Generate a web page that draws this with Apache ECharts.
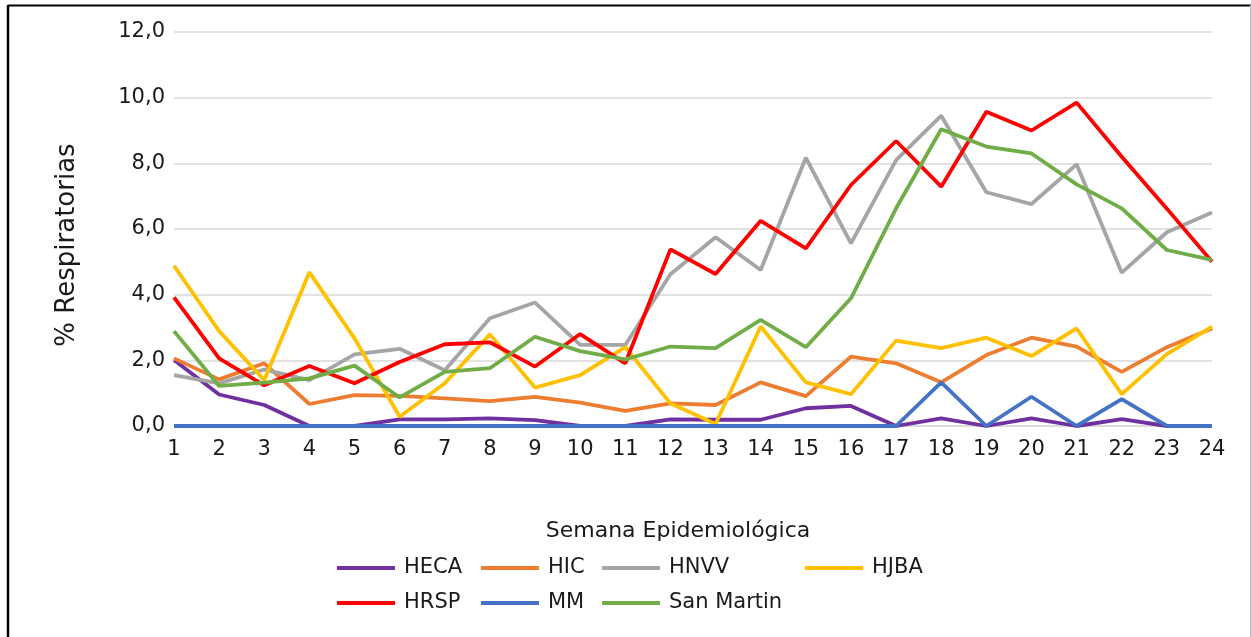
<!DOCTYPE html>
<html>
<head>
<meta charset="utf-8">
<script src="https://cdn.jsdelivr.net/npm/echarts@6/dist/echarts.min.js"></script>
<style>
html,body{margin:0;padding:0;background:#fff;}
#c{width:1251px;height:637px;}
</style>
</head>
<body>
<div id="c"></div>
<script>
var weeks = ['1','2','3','4','5','6','7','8','9','10','11','12','13','14','15','16','17','18','19','20','21','22','23','24'];
var HECA = [2.01,0.96,0.64,0,0,0.2,0.2,0.23,0.18,0,0,0.2,0.19,0.19,0.54,0.61,0,0.23,0,0.23,0,0.21,0,0];
var HIC = [2.06,1.42,1.91,0.67,0.94,0.92,0.84,0.76,0.89,0.71,0.46,0.69,0.64,1.33,0.91,2.11,1.91,1.33,2.16,2.69,2.42,1.65,2.40,2.97];
var HNVV = [1.55,1.30,1.72,1.40,2.18,2.35,1.70,3.28,3.76,2.47,2.47,4.62,5.75,4.75,8.17,5.56,8.10,9.45,7.12,6.76,7.97,4.67,5.90,6.50];
var HJBA = [4.88,2.89,1.40,4.68,2.67,0.28,1.30,2.79,1.17,1.55,2.40,0.69,0.06,3.03,1.33,0.97,2.60,2.37,2.69,2.13,2.97,0.97,2.19,3.03];
var HRSP = [3.92,2.06,1.24,1.83,1.30,1.95,2.49,2.55,1.81,2.80,1.91,5.38,4.63,6.25,5.41,7.34,8.68,7.29,9.57,9.00,9.85,8.20,6.62,5.00];
var MM = [0,0,0,0,0,0,0,0,0,0,0,0,0,0,0,0,0,1.33,0,0.89,0,0.82,0,0];
var SanMartin = [2.89,1.22,1.32,1.45,1.84,0.87,1.65,1.76,2.72,2.28,2.03,2.42,2.37,3.23,2.40,3.89,6.63,9.04,8.51,8.30,7.36,6.63,5.36,5.06];
var yTicks = [0,2,4,6,8,10,12];

var names = ['HECA','HIC','HNVV','HJBA','HRSP','MM','San Martin'];
var values = [HECA,HIC,HNVV,HJBA,HRSP,MM,SanMartin];
var colors = ['#7030A0','#ED7D31','#A5A5A5','#FFC000','#FF0000','#4472C4','#70AD47'];
var legendPos = [[337,556],[481,556],[602,556],[805,556],[337,591],[481,591],[602,591]];

var chart = echarts.init(document.getElementById('c'), null, {renderer:'canvas'});
var font = 'DejaVu Sans';
var series = names.map(function(n,i){
  return {name:n,type:'line',data:values[i],symbol:'none',smooth:false,
    lineStyle:{color:colors[i],width:3.8},itemStyle:{color:colors[i]},z:2+i};
});
var legends = names.map(function(n,i){
  return {data:[n],left:legendPos[i][0],top:legendPos[i][1],icon:'rect',itemWidth:58,itemHeight:4,
    selectedMode:false,padding:0,textStyle:{fontFamily:font,fontSize:21,color:'#1a1a1a',lineHeight:24,padding:[0,0,0,4]}};
});
chart.setOption({
  animation:false,
  backgroundColor:'#fff',
  grid:{left:174,right:39,top:32,bottom:211,containLabel:false},
  legend:legends,
  xAxis:{type:'category',data:weeks,boundaryGap:false,
    axisLine:{show:true,lineStyle:{color:'#d9d9d9',width:1.5}},axisTick:{show:false},
    axisLabel:{fontFamily:font,fontSize:21,color:'#1a1a1a',margin:13}},
  yAxis:{type:'value',min:yTicks[0],max:yTicks[yTicks.length-1],interval:2,
    axisLine:{show:false},axisTick:{show:false},
    splitLine:{lineStyle:{color:'#d9d9d9',width:1.5}},
    axisLabel:{fontFamily:font,fontSize:21,color:'#1a1a1a',margin:9,
      formatter:function(v){return v.toFixed(1).replace('.',',');}}},
  series:series,
  graphic:[
    {type:'text',x:67,y:245,rotation:Math.PI/2,style:{text:'% Respiratorias',fontFamily:font,fontSize:26,fill:'#1a1a1a',align:'center',verticalAlign:'middle'}},
    {type:'text',x:678,y:531,style:{text:'Semana Epidemiológica',fontFamily:font,fontSize:22,fill:'#1a1a1a',align:'center',verticalAlign:'middle'}},
    {type:'line',shape:{x1:8,y1:5.5,x2:1251,y2:5.5},style:{stroke:'#000',lineWidth:2}},
    {type:'line',shape:{x1:8,y1:5,x2:8,y2:637},style:{stroke:'#000',lineWidth:2.5}},
    {type:'line',shape:{x1:1250.5,y1:5,x2:1250.5,y2:637},style:{stroke:'#bfbfbf',lineWidth:1}}
  ]
});
</script>
</body>
</html>
